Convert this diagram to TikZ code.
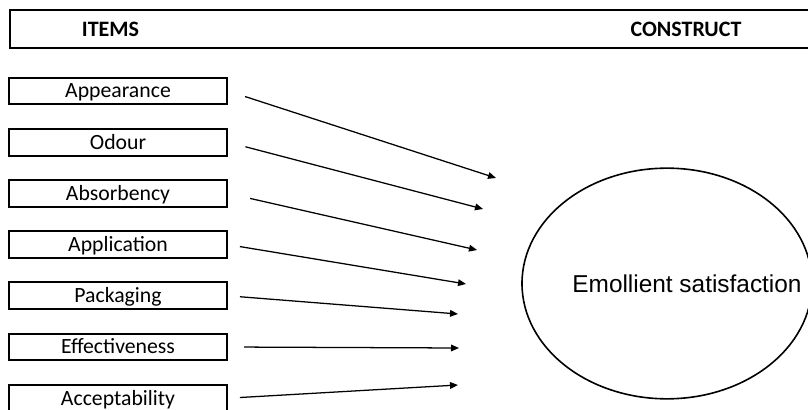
\documentclass[tikz,border=0pt]{standalone}
\usepackage{fontspec}
\setmainfont{Carlito}
\newfontfamily\arialfont{Liberation Sans}
\usetikzlibrary{shapes.geometric,arrows.meta}
\tikzset{
item/.style={draw, line width=1.5pt, minimum width=163.5pt, minimum height=20pt, inner sep=0pt,
  text height=10.3pt, text depth=0pt, font=\fontsize{16.3}{18}\selectfont},
head/.style={text height=10.6pt, text depth=0pt, font=\bfseries\fontsize{16.5}{18}\selectfont},
construct/.style={draw, ellipse, line width=1.2pt, minimum width=217.5pt, minimum height=173pt, inner sep=0pt},
link/.style={line width=0.95pt, -{Triangle[length=6pt,width=5pt]}}
}
\begin{document}
\begin{tikzpicture}[x=0.75pt,y=-0.75pt]
\useasboundingbox (0,0) rectangle (808,410);
\clip (0,0) rectangle (808,410);

\draw[line width=1.5pt] (10,10) rectangle (840,48);
\node[head] (items) at (110.5,29) {ITEMS};
\node[head] (construct) at (686,29) {CONSTRUCT};

\node[construct, label={[xshift=15pt, text height=13.1pt, text depth=0pt, font=\arialfont\fontsize{18.3}{22}\selectfont]center:Emollient satisfaction}] (sat) at (667,283.5) {};

\foreach \i/\txt/\sx/\ex/\ey in {1/Appearance/13.5/496/178, 2/Odour/13.5/483/209, 3/Absorbency/17/477/250,
  4/Application/9/466/284, 5/Packaging/9/458/314, 6/Effectiveness/12/459/348, 7/Acceptability/9/458/385}
{
\node[item] (it\i) at (118,{91+51.2*(\i-1)}) {\txt};
\coordinate (e\i) at (\ex,\ey);
\draw[link, shorten <=\sx pt] (it\i.east) -- (e\i);
}
\end{tikzpicture}
\end{document}
